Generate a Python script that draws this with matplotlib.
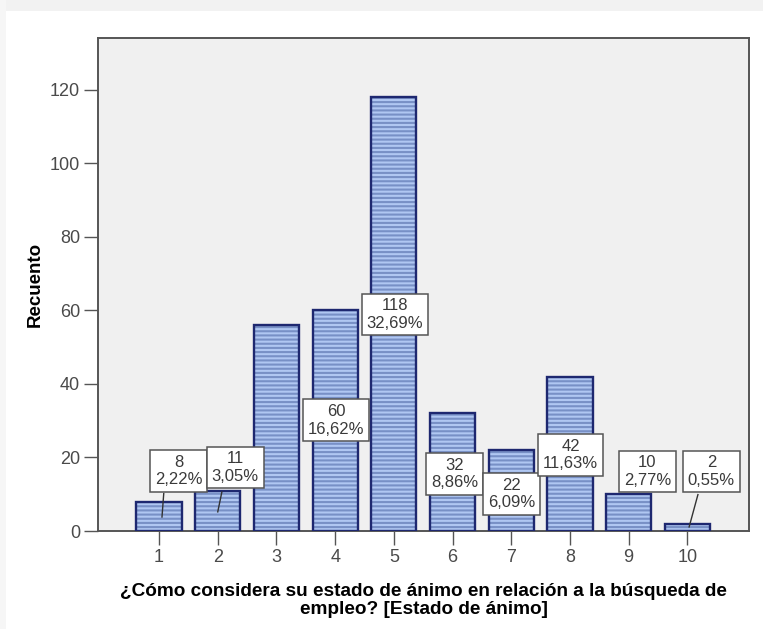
import matplotlib.pyplot as plt
from matplotlib.patches import Rectangle

# Datos del grafico (SPSS)
categorias = [1, 2, 3, 4, 5, 6, 7, 8, 9, 10]
recuento = [8, 11, 56, 60, 118, 32, 22, 42, 10, 2]
total = sum(recuento)

# Posicion de las etiquetas (centro de la caja) y si se muestran
etiqueta_x = [1.33, 2.30, None, 4.02, 5.02, 6.03, 7.00, 8.01, 9.32, 10.41]
etiqueta_y = [16.3, 17.3, None, 30.1, 58.9, 15.5, 10.1, 20.7, 16.2, 16.2]
# lineas guia para las etiquetas desplazadas
guias = {0: (1.05, 3.8, 1.08, 10.2), 1: (2.0, 5.2, 2.07, 10.6), 9: (10.03, 1.1, 10.18, 9.9)}

plt.rcParams['font.family'] = ['Liberation Sans', 'DejaVu Sans']
plt.rcParams['hatch.linewidth'] = 1.5

fig = plt.figure(figsize=(7.63, 6.29), dpi=100, facecolor='white')
# borde gris de la captura
fig.patches.append(Rectangle((0, 1 - 11 / 629), 1, 11 / 629, transform=fig.transFigure,
                             facecolor='#f2f2f2', edgecolor='none', zorder=0))
fig.patches.append(Rectangle((0, 0), 6 / 763, 1, transform=fig.transFigure,
                             facecolor='#f6f6f6', edgecolor='none', zorder=0))

ax = fig.add_axes([98 / 763, 98 / 629, 651 / 763, 493 / 629])
ax.set_facecolor('#f0f0f0')

# relleno rayado y luego el borde azul oscuro
ax.bar(categorias, recuento, width=0.77, color='#b0c7f2', edgecolor='#7890c6',
       linewidth=0, hatch='----', zorder=2)
ax.bar(categorias, recuento, width=0.77, fill=False, edgecolor='#1e2870',
       linewidth=1.7, zorder=3)

for i, n in enumerate(recuento):
    if etiqueta_x[i] is None:
        continue
    if i in guias:
        x0, y0, x1, y1 = guias[i]
        ax.plot([x0, x1], [y0, y1], color='#333333', lw=1, zorder=4)
    pct = f"{100 * n / total:.2f}".replace('.', ',')
    ax.text(etiqueta_x[i], etiqueta_y[i], f"{n}\n{pct}%", ha='center', va='center',
            fontsize=12, color='#3a3a3a', linespacing=1.2, zorder=5,
            bbox=dict(boxstyle='square,pad=0.28', facecolor='white',
                      edgecolor='#555555', linewidth=1.1))

ax.set_xlim(-0.04, 11.05)
ax.set_ylim(0, 134.1)
ax.set_xticks(categorias)
ax.set_yticks([0, 20, 40, 60, 80, 100, 120])
ax.tick_params(axis='both', direction='out', length=10, width=1, color='#555555',
               labelsize=13, labelcolor='#4a4a4a', pad=3)
for s in ax.spines.values():
    s.set_color('#555555')
    s.set_linewidth(1.4)

ax.set_ylabel("Recuento", fontsize=13.5, fontweight='bold', labelpad=4)
ax.set_xlabel("¿Cómo considera su estado de ánimo en relación a la búsqueda de\nempleo? [Estado de ánimo]",
              fontsize=13.7, fontweight='bold', labelpad=12, linespacing=1.1)

plt.savefig("out.png", dpi=100, facecolor=fig.get_facecolor())
